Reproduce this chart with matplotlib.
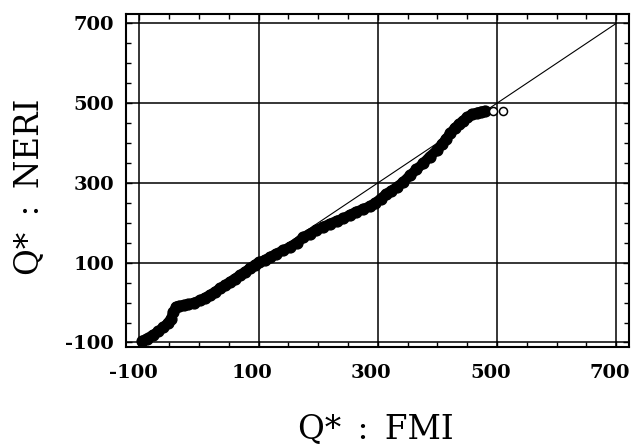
import matplotlib
matplotlib.use("Agg")
import matplotlib.pyplot as plt
from matplotlib.ticker import FixedLocator, MultipleLocator
import matplotlib.transforms as mtransforms

# Q-Q data (FMI quantiles vs NERI quantiles)
fmi = [-95, -88, -77, -68, -60, -52, -47, -43, -38, -33, -25, -18, -8, 2, 10, 18,
       27, 35, 44, 52, 60, 69, 78, 86, 94, 100, 110, 119, 130, 141, 152, 164,
       175, 186, 197, 208, 220, 231, 242, 253, 264, 276, 287, 296, 305, 314,
       323, 332, 343, 354, 365, 376, 387, 399, 408, 415, 422, 429, 436, 443,
       450, 458, 466, 473, 480]
neri = [-96, -90, -81, -72, -62, -51, -40, -24, -10, -8, -6, -4, 0, 6, 12, 19,
        27, 36, 44, 52, 60, 69, 78, 87, 95, 101, 106, 114, 123, 131, 139, 149,
        164, 173, 182, 190, 198, 205, 211, 220, 228, 235, 242, 250, 261, 272,
        281, 290, 303, 319, 334, 349, 366, 382, 398, 411, 425, 437, 447, 456,
        465, 472, 476, 479, 481]

# open-circle outliers
fmi_open = [493, 511]
neri_open = [481, 481]

# reference line y = x
ref_line = [0, 700]

ticks = [-100, 100, 300, 500, 700]
tick_labels = ["-100", "100", "300", "500", "700"]

fig = plt.figure(figsize=(6.34, 4.47), dpi=100)
ax = fig.add_axes([0.1987, 0.2237, 0.7942, 0.745])

ax.plot(ref_line, ref_line, color="black", lw=0.8, zorder=2)
ax.plot(fmi, neri, color="black", lw=7.2, solid_capstyle="round",
        solid_joinstyle="round", zorder=3)
ax.plot(fmi, neri, "o", color="black", ms=7.8, zorder=3)
ax.plot(fmi_open, neri_open, "o", mfc="white", mec="black", ms=5.8,
        mew=1.1, zorder=4)

ax.set_xlim(-122.5, 722.5)
ax.set_ylim(-111.3, 723.8)

ax.xaxis.set_major_locator(FixedLocator(ticks))
ax.yaxis.set_major_locator(FixedLocator(ticks))
ax.set_xticklabels(tick_labels)
ax.set_yticklabels(tick_labels)
ax.xaxis.set_minor_locator(MultipleLocator(50))
ax.yaxis.set_minor_locator(MultipleLocator(50))

ax.grid(True, which="major", color="black", lw=1.1, zorder=1)
ax.set_axisbelow(True)

ax.tick_params(which="both", direction="in", top=True, right=True)
ax.tick_params(which="major", length=4, width=1)
ax.tick_params(which="minor", length=3.5, width=1)
ax.tick_params(axis="x", which="major", pad=12.5)
ax.tick_params(axis="y", which="major", pad=8.5)

for lab in ax.get_xticklabels() + ax.get_yticklabels():
    lab.set_fontfamily("DejaVu Serif")
    lab.set_fontweight("bold")
    lab.set_fontsize(14)

offset = mtransforms.ScaledTranslation(-6.5 / 100, 0, fig.dpi_scale_trans)
for lab in ax.get_xticklabels():
    lab.set_transform(lab.get_transform() + offset)

for sp in ax.spines.values():
    sp.set_linewidth(1.5)

ax.set_xlabel("Q*\u2002:\u2002FMI", fontfamily="DejaVu Serif", fontsize=23.5)
ax.set_ylabel("Q*\u2002:\u2002NERI", fontfamily="DejaVu Serif", fontsize=23.5)
ax.xaxis.set_label_coords(0.4965, -0.197)
ax.yaxis.set_label_coords(-0.160, 0.48)

fig.savefig("out.png", dpi=100)
